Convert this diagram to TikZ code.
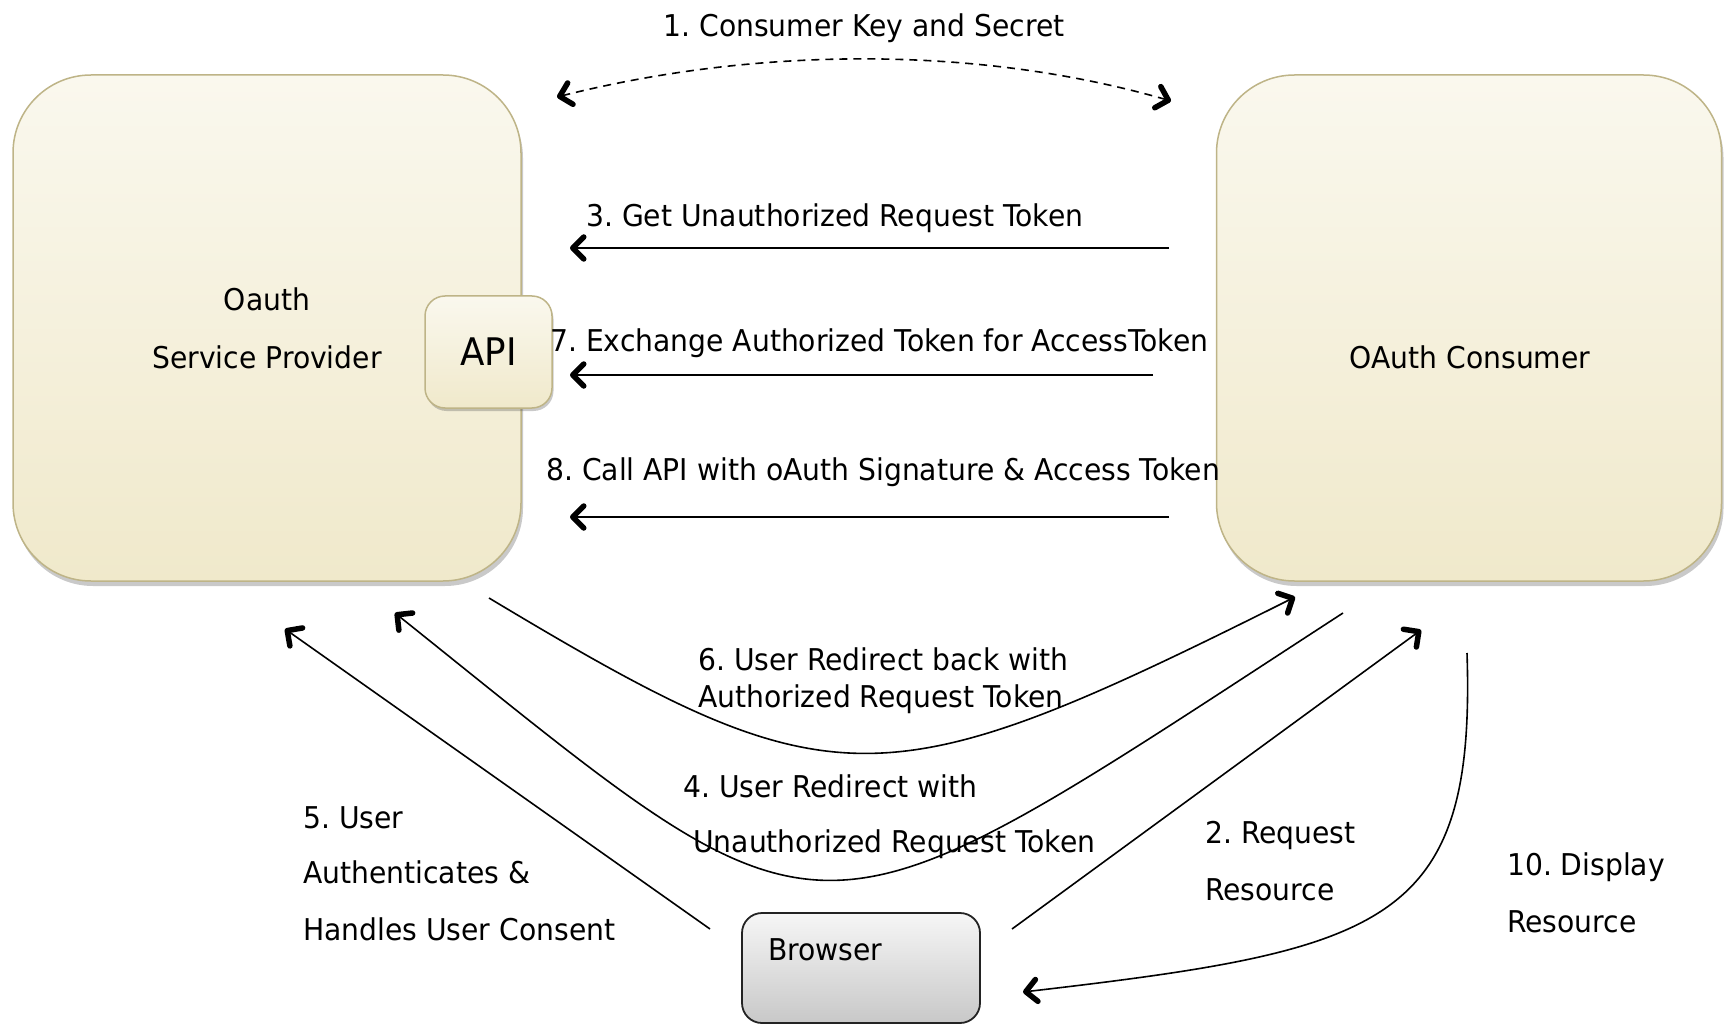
\documentclass[tikz,border=0pt]{standalone}
\usepackage{fontspec}
\setmainfont{DejaVu Sans}[FakeStretch=0.94]
\usetikzlibrary{arrows.meta,shadows}
\definecolor{boxtop}{RGB}{250,248,238}
\definecolor{boxbot}{RGB}{240,233,203}
\definecolor{boxedge}{RGB}{190,180,135}
\definecolor{brtop}{RGB}{246,246,246}
\definecolor{brbot}{RGB}{200,200,200}
\definecolor{bredge}{RGB}{35,35,35}
\frenchspacing
\begin{document}
\begin{tikzpicture}[x=1pt,y=-1pt,
  font=\fontsize{30}{36}\selectfont,
  bigbox/.style={draw=boxedge, line width=1.5pt, rounded corners=78pt,
    top color=boxtop, bottom color=boxbot, inner sep=0pt,
    drop shadow={shadow xshift=2pt,shadow yshift=-5pt,opacity=0.30,fill=black!70}},
  apibox/.style={draw=boxedge, line width=1.5pt, rounded corners=20pt,
    top color=boxtop, bottom color=boxbot, inner sep=0pt,
    font=\fontsize{38}{44}\selectfont,
    drop shadow={shadow xshift=1.5pt,shadow yshift=-3pt,opacity=0.30,fill=black!70}},
  brbox/.style={draw=bredge, line width=1.8pt, rounded corners=20pt,
    top color=brtop, bottom color=brbot, inner sep=0pt},
  lbl/.style={inner sep=0pt, anchor=base west},
  clbl/.style={inner sep=0pt, anchor=base},
  tipbarb/.tip={Straight Barb[length=11pt,width=22pt,line width=5.5pt,round]},
  arr/.style={line width=1.6pt, -tipbarb},
  darr/.style={line width=1.6pt, tipbarb-tipbarb, dash pattern=on 8pt off 6pt}
]
\useasboundingbox (0,0) rectangle (1724,1024);

% boxes
\node[bigbox, minimum width=508pt, minimum height=506pt] (sp) at (267,328) {};
\node[bigbox, minimum width=505pt, minimum height=506pt] (oc) at (1469,328) {};
\node[apibox, minimum width=127pt, minimum height=112pt] (api) at (488.5,352) {API};
\node[brbox, minimum width=238pt, minimum height=110pt] (br) at (861,968) {};

% box texts
\node[clbl] (tsp1) at (267,310) {Oauth};
\node[clbl] (tsp2) at (267,368) {Service Provider};
\node[clbl] (toc) at (1470,368) {OAuth Consumer};
\node[lbl] (tbr) at (768,960) {Browser};

% coordinates
\coordinate (d1s) at (557,97);
\coordinate (d1e) at (1171,101);
\coordinate (a3s) at (1169,248);
\coordinate (a3e) at (570,248);
\coordinate (a7s) at (1153,375);
\coordinate (a7e) at (570,375);
\coordinate (a8s) at (1169,517);
\coordinate (a8e) at (570,517);
\coordinate (a6s) at (489,598);
\coordinate (a6e) at (1295,597);
\coordinate (a4s) at (1343,613);
\coordinate (a4e) at (395,613);
\coordinate (a5s) at (710,929);
\coordinate (a5e) at (285,629);
\coordinate (a2s) at (1012,929);
\coordinate (a2e) at (1421,630);
\coordinate (a10s) at (1467,653);
\coordinate (a10e) at (1023,992);

% connectors
\draw[darr] (d1s) .. controls (760,46) and (980,46) .. (d1e);
\draw[arr] (a3s) -- (a3e);
\draw[arr] (a7s) -- (a7e);
\draw[arr] (a8s) -- (a8e);
\draw[arr] (a6s) .. controls (834,805) and (879,805) .. (a6e);
\draw[arr] (a4s) .. controls (795,969) and (840,969) .. (a4e);
\draw[arr] (a5s) -- (a5e);
\draw[arr] (a2s) -- (a2e);
\draw[arr] (a10s) .. controls (1476,925) and (1385,950) .. (a10e);

% labels
\node[clbl] (t1) at (864,37) {1. Consumer Key and Secret};
\node[lbl] (t3) at (586,227) {3. Get Unauthorized Request Token};
\node[lbl] (t7) at (550,352) {7. Exchange Authorized Token for AccessToken};
\node[lbl] (t8) at (546,480) {8. Call API with oAuth Signature \& Access Token};
\node[lbl] (t6a) at (698,670) {6. User Redirect back with};
\node[lbl] (t6b) at (698,707) {Authorized Request Token};
\node[lbl] (t4a) at (683,797) {4. User Redirect with};
\node[lbl] (t4b) at (693,852) {Unauthorized Request Token};
\node[lbl] (t5a) at (303,828) {5. User};
\node[lbl] (t5b) at (303,883) {Authenticates \&};
\node[lbl] (t5c) at (303,940) {Handles User Consent};
\node[lbl] (t2a) at (1205,843) {2. Request};
\node[lbl] (t2b) at (1205,900) {Resource};
\node[lbl] (t10a) at (1507,875) {10. Display};
\node[lbl] (t10b) at (1507,932) {Resource};
\end{tikzpicture}
\end{document}
